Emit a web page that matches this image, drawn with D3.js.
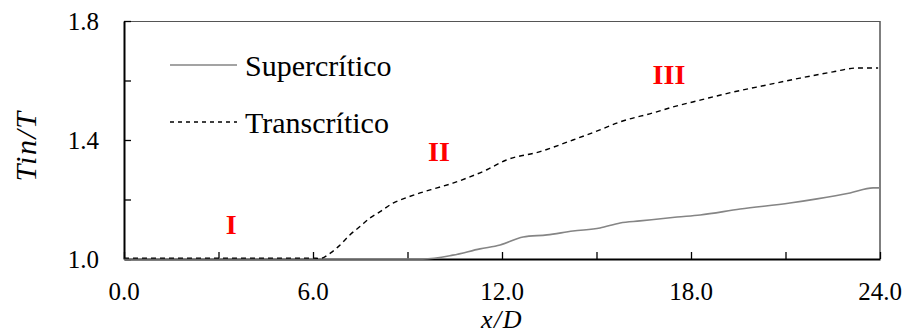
<!DOCTYPE html>
<html>
<head>
<meta charset="utf-8">
<script src="https://cdn.jsdelivr.net/npm/d3@7"></script>
<style>
  html, body { margin: 0; padding: 0; background: #fff; }
  svg { display: block; }
</style>
</head>
<body>
<svg id="chart" width="907" height="335"></svg>
<script>
// x/D positions and Tin/T values for each regime
const superX = [0, 9.0, 9.49, 10.44, 11.30, 11.94, 12.67, 13.43, 14.25, 15.11, 15.75, 16.38, 17.56, 18.29, 19.56, 21.14, 22.0, 23.05, 23.78, 24.0];
const superY = [1.0, 1.0, 1.0, 1.013, 1.034, 1.047, 1.074, 1.081, 1.094, 1.104, 1.121, 1.128, 1.141, 1.148, 1.168, 1.188, 1.202, 1.222, 1.239, 1.239];

const transX = [0, 6.0, 6.22, 6.54, 6.86, 7.17, 7.49, 7.81, 8.13, 8.54, 8.86, 9.40, 9.94, 10.44, 10.98, 11.52, 12.12, 13.21, 14.25, 15.11, 15.75, 16.79, 17.43, 18.29, 19.33, 20.41, 21.46, 22.51, 23.27, 23.94];
const transY = [1.003, 1.003, 1.002, 1.019, 1.047, 1.081, 1.109, 1.138, 1.159, 1.188, 1.202, 1.222, 1.239, 1.255, 1.276, 1.300, 1.332, 1.361, 1.400, 1.434, 1.461, 1.491, 1.511, 1.534, 1.561, 1.585, 1.608, 1.629, 1.642, 1.642];

const seriesNames = ["Supercrítico", "Transcrítico"];

const xTicks = [0, 3, 6, 9, 12, 15, 18, 21, 24];
const xTickLabels = [0, 6, 12, 18, 24];
const yTicks = [1.0, 1.2, 1.4, 1.6, 1.8];
const yTickLabels = [1.0, 1.4, 1.8];

// Regime markers: label, x/D, Tin/T
const regimeNames = ["I", "II", "III"];
const regimeX = [3.4, 10.0, 17.3];
const regimeY = [1.084, 1.331, 1.588];

const svg = d3.select("#chart");
const m = { left: 124, right: 880, top: 21, bottom: 259 };

const x = d3.scaleLinear().domain([0, 24]).range([m.left, m.right]);
const y = d3.scaleLinear().domain([1.0, 1.8]).range([m.bottom, m.top]);

const serif = "'Liberation Serif', 'Times New Roman', serif";

// Frame: thin top/right, heavier left/bottom
svg.append("line").attr("x1", m.left).attr("x2", m.right).attr("y1", m.top + 0.5).attr("y2", m.top + 0.5)
  .attr("stroke", "#555").attr("stroke-width", 1);
svg.append("line").attr("x1", m.right).attr("x2", m.right).attr("y1", m.top).attr("y2", m.bottom)
  .attr("stroke", "#555").attr("stroke-width", 1.5);

// Axes with inward ticks
const xAxis = d3.axisBottom(x).tickValues(xTicks).tickSizeInner(-7).tickSizeOuter(0).tickFormat("");
const gx = svg.append("g").attr("transform", `translate(0,${m.bottom})`).call(xAxis);
const yAxis = d3.axisLeft(y).tickValues(yTicks).tickSizeInner(-7).tickSizeOuter(0).tickFormat("");
const gy = svg.append("g").attr("transform", `translate(${m.left},0)`).call(yAxis);

[gx, gy].forEach(g => {
  g.select(".domain").attr("stroke", "#000").attr("stroke-width", 2);
  g.selectAll(".tick line").attr("stroke", "#000").attr("stroke-width", 1.3);
});

// Tick labels
svg.append("g").selectAll("text").data(xTickLabels).join("text")
  .attr("x", d => x(d)).attr("y", 300)
  .attr("text-anchor", "middle")
  .attr("font-family", serif).attr("font-size", 25).attr("fill", "#000")
  .text(d => d.toFixed(1));

svg.append("g").selectAll("text").data(yTickLabels).join("text")
  .attr("x", 99).attr("y", d => y(d) + 8.5)
  .attr("text-anchor", "end")
  .attr("font-family", serif).attr("font-size", 25).attr("fill", "#000")
  .text(d => d.toFixed(1));

// Axis titles
svg.append("text")
  .attr("x", (m.left + m.right) / 2).attr("y", 328)
  .attr("text-anchor", "middle")
  .attr("font-family", serif).attr("font-style", "italic").attr("font-size", 26)
  .attr("letter-spacing", 1.5)
  .text("x/D");

svg.append("text")
  .attr("transform", "translate(36,146) rotate(-90)")
  .attr("text-anchor", "middle")
  .attr("font-family", serif).attr("font-style", "italic").attr("font-size", 30)
  .attr("letter-spacing", 1.5)
  .text("Tin/T");

// Curves
const line = d3.line().x(d => x(d[0])).y(d => y(d[1])).curve(d3.curveMonotoneX);
const superPts = superX.map((v, i) => [v, superY[i]]);
const transPts = transX.map((v, i) => [v, transY[i]]);

svg.append("path").datum(superPts)
  .attr("d", line).attr("fill", "none")
  .attr("stroke", "#858585").attr("stroke-width", 1.6);

svg.append("path").datum(transPts)
  .attr("d", line).attr("fill", "none")
  .attr("stroke", "#000").attr("stroke-width", 1.4)
  .attr("stroke-dasharray", "5,4");

// Legend
const legendRows = [
  { name: seriesNames[0], y: 65, stroke: "#858585", dash: null, w: 1.6 },
  { name: seriesNames[1], y: 122, stroke: "#000", dash: "4,4", w: 1.3 }
];
const lg = svg.append("g");
legendRows.forEach(r => {
  lg.append("line").attr("x1", 170).attr("x2", 237).attr("y1", r.y).attr("y2", r.y)
    .attr("stroke", r.stroke).attr("stroke-width", r.w)
    .attr("stroke-dasharray", r.dash);
  lg.append("text").attr("x", 245).attr("y", r.y + 11)
    .attr("font-family", serif).attr("font-size", 30).attr("fill", "#000")
    .text(r.name);
});

// Regime labels
svg.append("g").selectAll("text").data(regimeNames).join("text")
  .attr("x", (d, i) => x(regimeX[i]))
  .attr("y", (d, i) => y(regimeY[i]))
  .attr("text-anchor", "middle")
  .attr("font-family", serif).attr("font-weight", "bold").attr("font-size", 28)
  .attr("fill", "#ff0000")
  .text(d => d);
</script>
</body>
</html>
